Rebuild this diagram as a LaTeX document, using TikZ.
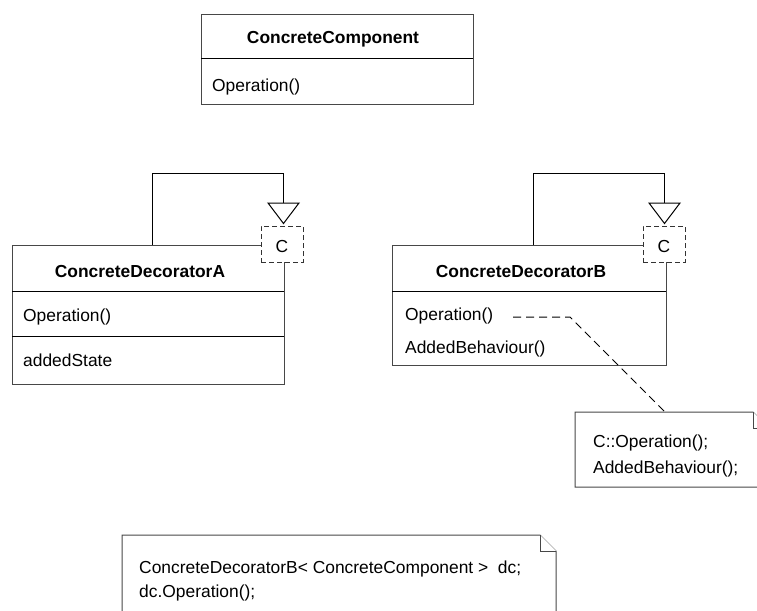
\documentclass[tikz,border=0pt]{standalone}
\usepackage{fontspec}
\setmainfont{Liberation Sans}
\begin{document}
\begin{tikzpicture}[x=1pt,y=-1pt,
  font=\fontsize{17.4}{20}\selectfont,
  classbox/.style={draw=black!72, line width=1pt, fill=white, inner sep=0pt, anchor=north west},
  divider/.style={draw=black, line width=1pt},
  txt/.style={inner sep=0pt, anchor=base west},
  ctxt/.style={inner sep=0pt, anchor=base, font=\fontsize{17.4}{20}\selectfont\bfseries},
  loopline/.style={draw=black, line width=1pt},
  tmpl/.style={draw=black!80, dash pattern=on 5pt off 3pt, line width=1pt, fill=white, inner sep=0pt, minimum width=42pt, minimum height=36pt},
  tri/.style={draw=black, line width=1pt, fill=white},
  notebox/.style={draw=black!72, line width=1pt, fill=white},
  noteline/.style={draw=black, line width=1pt, dash pattern=on 8pt off 5pt}
]
\useasboundingbox (0,0) rectangle (757,610);
\clip (0,0) rectangle (757,610);

% ConcreteComponent
\node[classbox, minimum width=272pt, minimum height=90pt] (CC) at (201,14) {};
\draw[divider] (201,59) -- (473,59);
\node[ctxt] (CCname) at (333,44) {ConcreteComponent};
\node[txt] (CCop) at (212,92) {Operation()};

% ConcreteDecoratorA
\node[classbox, minimum width=272pt, minimum height=139pt] (A) at (12,245) {};
\draw[divider] (12,291) -- (284,291);
\draw[divider] (12,336) -- (284,336);
\node[ctxt] (Aname) at (140,277) {ConcreteDecoratorA};
\node[txt] (Aop) at (23,321) {Operation()};
\node[txt] (Ast) at (23,366) {addedState};

% ConcreteDecoratorB
\node[classbox, minimum width=274pt, minimum height=120pt] (B) at (392,245) {};
\draw[divider] (392,291) -- (666,291);
\node[ctxt] (Bname) at (521,277) {ConcreteDecoratorB};
\node[txt] (Bop) at (405,320) {Operation()};
\node[txt] (Bab) at (405,353) {AddedBehaviour()};

% template parameter boxes
\node[tmpl] (CA) at (282,244) {};
\node[inner sep=0pt, anchor=base] (CAt) at (282,252) {C};
\node[tmpl] (CB) at (664,244) {};
\node[inner sep=0pt, anchor=base] (CBt) at (664,252) {C};

% realization loops with hollow triangles
\coordinate (tA) at (283.5,203);
\coordinate (tB) at (664.5,203);
\coordinate (loopA) at (152,245);
\coordinate (loopB) at (533,245);
\draw[loopline] (loopA) -- (152,173) -| (tA);
\draw[loopline] (loopB) -- (533,173) -| (tB);
\draw[tri] (268,203) -- (299,203) -- (283.5,223.5) -- cycle;
\draw[tri] (649,203) -- (680,203) -- (664.5,223.5) -- cycle;

% note 1
\draw[notebox] (575,412) -- (753,412) -- (769,428) -- (769,487) -- (575,487) -- cycle;
\draw[notebox] (753,412) -- (753,428) -- (769,428);
\coordinate (N1) at (665,412);
\node[txt] (n1a) at (593,447) {C::Operation();};
\node[txt] (n1b) at (593,473) {AddedBehaviour();};

% note connector
\coordinate (nstart) at (513,317);
\coordinate (nbend) at (570,317);
\draw[noteline] (nstart) -- (nbend) -- (N1);

% note 2
\draw[notebox] (122,535) -- (540,535) -- (556,551) -- (556,625) -- (122,625) -- cycle;
\draw[notebox] (540,535) -- (540,551) -- (556,551);
\node[txt] (n2a) at (139,573) {ConcreteDecoratorB< ConcreteComponent >\ \ dc;};
\node[txt] (n2b) at (139,597) {dc.Operation();};
\end{tikzpicture}
\end{document}
